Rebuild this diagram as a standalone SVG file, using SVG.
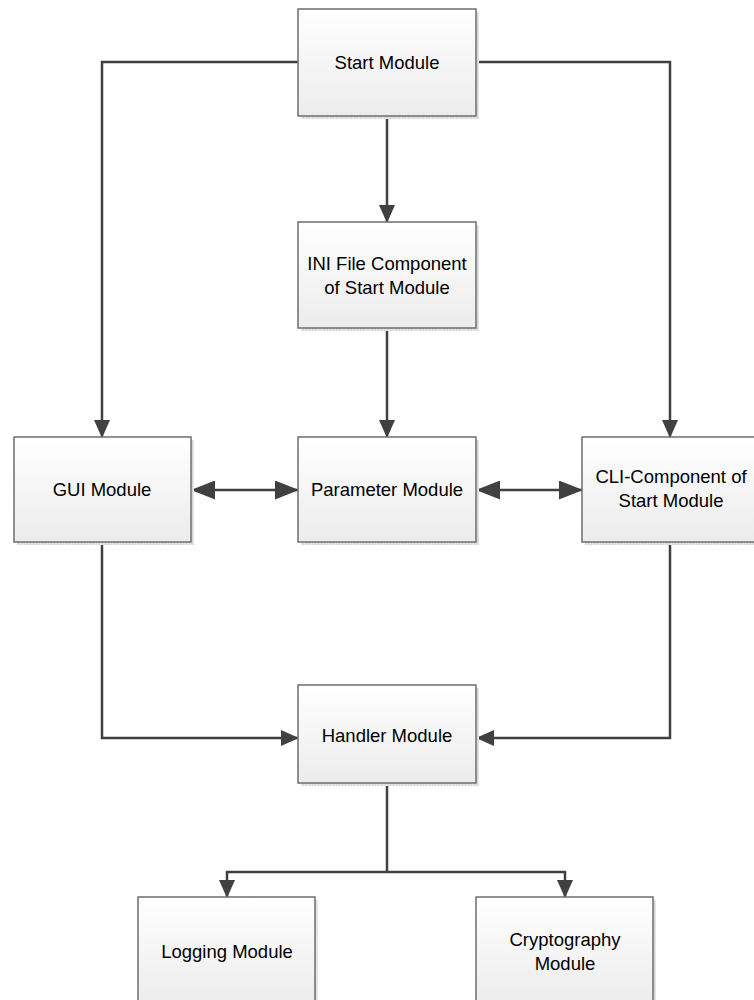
<svg xmlns="http://www.w3.org/2000/svg" width="754" height="1000" viewBox="0 0 754 1000">
  <defs>
    <linearGradient id="boxFill" x1="0" y1="0" x2="0" y2="1">
      <stop offset="0" stop-color="#ffffff"/>
      <stop offset="1" stop-color="#ececec"/>
    </linearGradient>
    <pattern id="shadowHatch" width="3" height="3" patternUnits="userSpaceOnUse">
      <rect width="3" height="3" fill="#e6e6e6"/>
      <rect width="1" height="3" fill="#d4d4d4"/>
    </pattern>
    <!-- standard arrowhead for flow lines -->
    <marker id="arrow" viewBox="0 0 18 16" refX="17" refY="8" markerWidth="18" markerHeight="16" markerUnits="userSpaceOnUse" orient="auto-start-reverse">
      <path d="M0,0 L18,8 L0,16 Z" fill="#404040"/>
    </marker>
    <!-- larger arrowhead for two-way links -->
    <marker id="arrowWide" viewBox="0 0 24 19" refX="23" refY="9.5" markerWidth="24" markerHeight="19" markerUnits="userSpaceOnUse" orient="auto-start-reverse">
      <path d="M0,0 L24,9.5 L0,19 Z" fill="#404040"/>
    </marker>
  </defs>
  <style>
    .shadow { fill: url(#shadowHatch); }
    .box { fill: url(#boxFill); stroke: #6e6e6e; stroke-width: 1.5; }
    .label { font-family: "Liberation Sans", Arial, sans-serif; font-size: 18.5px; fill: #000; text-anchor: middle; }
    .wire { fill: none; stroke: #404040; stroke-width: 2.5; }
  </style>
  <rect width="754" height="1000" fill="#ffffff"/>

  <!-- connectors -->
  <g id="connectors">
    <path class="wire" d="M298,62 H102 V437" marker-end="url(#arrow)"/>
    <path class="wire" d="M476,62 H670 V437" marker-end="url(#arrow)"/>
    <path class="wire" d="M387,116 V222" marker-end="url(#arrow)"/>
    <path class="wire" d="M387,328 V437" marker-end="url(#arrow)"/>
    <path class="wire" d="M192,490 H298" marker-start="url(#arrowWide)" marker-end="url(#arrowWide)"/>
    <path class="wire" d="M477,490 H582" marker-start="url(#arrowWide)" marker-end="url(#arrowWide)"/>
    <path class="wire" d="M102,542 V738 H298" marker-end="url(#arrow)"/>
    <path class="wire" d="M670,542 V738 H477" marker-end="url(#arrow)"/>
    <path class="wire" d="M387,783 V872"/>
    <path class="wire" d="M387,872 H227 V897" marker-end="url(#arrow)"/>
    <path class="wire" d="M387,872 H565 V897" marker-end="url(#arrow)"/>
  </g>

  <g id="start-module">
    <rect class="shadow" x="301" y="12" width="178" height="107"/>
    <rect class="box" x="298" y="9" width="178" height="107"/>
    <text class="label" x="387" y="69">Start Module</text>
  </g>

  <g id="ini-file-component">
    <rect class="shadow" x="301" y="225" width="178" height="106"/>
    <rect class="box" x="298" y="222" width="178" height="106"/>
    <text class="label" x="387" y="270">INI File Component</text>
    <text class="label" x="387" y="294">of Start Module</text>
  </g>

  <g id="gui-module">
    <rect class="shadow" x="17" y="440" width="177" height="105"/>
    <rect class="box" x="14" y="437" width="177" height="105"/>
    <text class="label" x="102" y="496">GUI Module</text>
  </g>

  <g id="parameter-module">
    <rect class="shadow" x="301" y="440" width="178" height="105"/>
    <rect class="box" x="298" y="437" width="178" height="105"/>
    <text class="label" x="387" y="496">Parameter Module</text>
  </g>

  <g id="cli-component">
    <rect class="shadow" x="585" y="440" width="178" height="105"/>
    <rect class="box" x="582" y="437" width="178" height="105"/>
    <text class="label" x="671" y="483">CLI-Component of</text>
    <text class="label" x="671" y="507">Start Module</text>
  </g>

  <g id="handler-module">
    <rect class="shadow" x="301" y="688" width="178" height="98"/>
    <rect class="box" x="298" y="685" width="178" height="98"/>
    <text class="label" x="387" y="742">Handler Module</text>
  </g>

  <g id="logging-module">
    <rect class="shadow" x="141" y="900" width="177" height="107"/>
    <rect class="box" x="138" y="897" width="177" height="107"/>
    <text class="label" x="227" y="958">Logging Module</text>
  </g>

  <g id="cryptography-module">
    <rect class="shadow" x="479" y="900" width="177" height="107"/>
    <rect class="box" x="476" y="897" width="177" height="107"/>
    <text class="label" x="565" y="946">Cryptography</text>
    <text class="label" x="565" y="970">Module</text>
  </g>
</svg>
